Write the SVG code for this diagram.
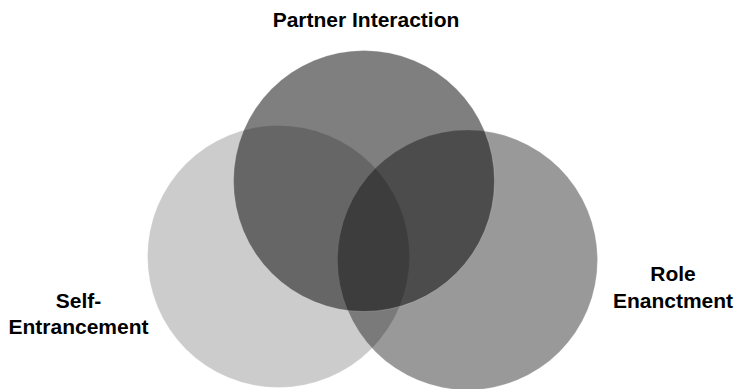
<svg xmlns="http://www.w3.org/2000/svg" width="735" height="389" viewBox="0 0 735 389">
  <style>
    .lbl { font-family: "Liberation Sans", Arial, Helvetica, sans-serif; font-weight: bold; font-size: 21px; fill: #000; text-anchor: middle; }
    .c { fill: #000; stroke: #fff; stroke-opacity: 0.35; stroke-width: 0.6; }
  </style>
  <rect width="735" height="389" fill="#fff"/>
  <g id="self-entrancement">
    <circle class="c" cx="278.5" cy="256.5" r="131" fill-opacity="0.2"/>
    <text class="lbl" x="78.5" y="308">Self-</text>
    <text class="lbl" x="78.5" y="334">Entrancement</text>
  </g>
  <g id="role-enactment">
    <circle class="c" cx="467.5" cy="260" r="130" fill-opacity="0.4"/>
    <text class="lbl" x="673" y="281">Role</text>
    <text class="lbl" x="673" y="308">Enanctment</text>
  </g>
  <g id="partner-interaction">
    <circle class="c" cx="364" cy="181" r="130.5" fill-opacity="0.5"/>
    <text class="lbl" x="366" y="27">Partner Interaction</text>
  </g>
  <g id="connectors"></g>
</svg>
